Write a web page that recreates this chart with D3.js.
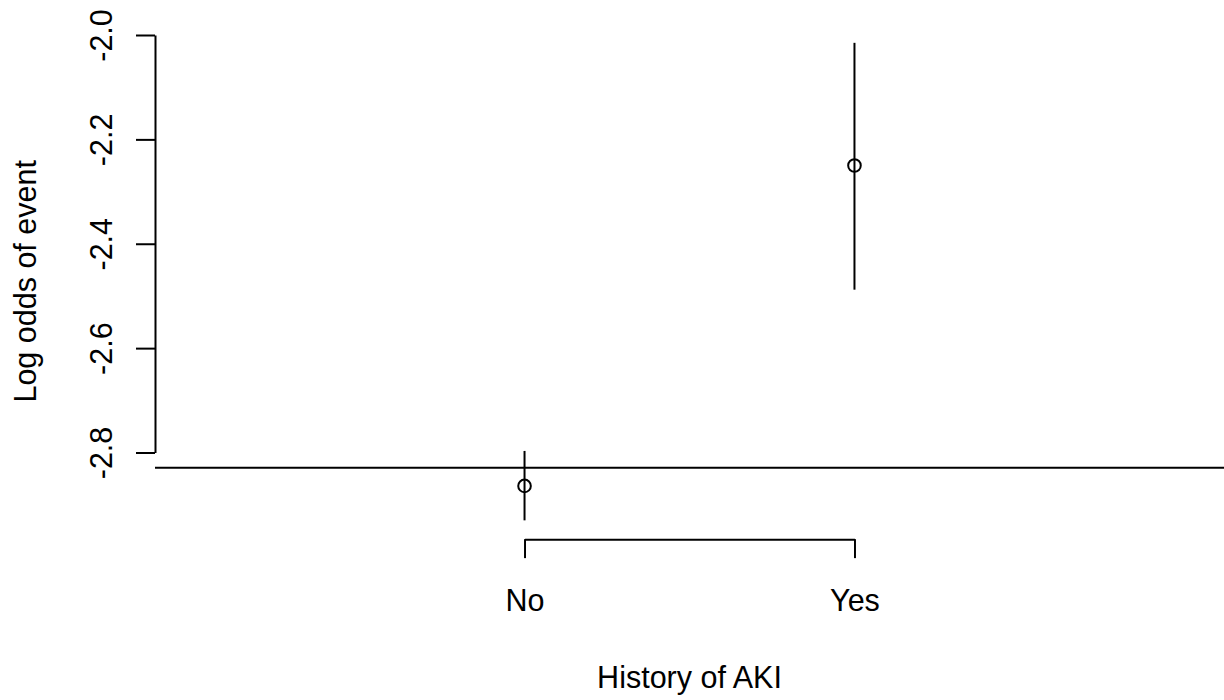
<!DOCTYPE html>
<html>
<head>
<meta charset="utf-8">
<script src="https://cdn.jsdelivr.net/npm/d3@7"></script>
<style>
  body { margin: 0; background: #fff; }
  svg { display: block; }
</style>
</head>
<body>
<div class="chart"></div>
<script>
// data
const categories = ['No', 'Yes']
const estimates = [-2.864, -2.250]
const lower = [-2.930, -2.488]
const upper = [-2.797, -2.015]
const refLine = -2.829
const yTicks = [-2.0, -2.2, -2.4, -2.6, -2.8]

const width = 1224
const height = 700
const fontFamily = '"Liberation Sans", Arial, Helvetica, sans-serif'
const fontSize = 30.5

const svg = d3.select('.chart').append('svg')
  .attr('width', width)
  .attr('height', height)
  .attr('font-family', fontFamily)

// plot region, x = 1..2 for categories, R style 4% padding
const x = d3.scaleLinear().domain([-0.12, 3.12]).range([155, 1224])
const y = d3.scaleLinear().domain([-2.0, -2.8]).range([35, 452.5])
const yBottom = y(-2.966)

// y axis
const yAxis = svg.append('g')
  .attr('transform', `translate(${x(-0.12)},0)`)
  .call(d3.axisLeft(y).tickValues(yTicks).tickSize(19).tickSizeOuter(0)
    .tickFormat(d3.format('.1f')))
yAxis.selectAll('path, line').attr('stroke', '#000').attr('stroke-width', 2)
yAxis.selectAll('text')
  .attr('x', 0).attr('dy', 0)
  .attr('transform', 'translate(-43,0) rotate(-90)')
  .attr('text-anchor', 'middle')
  .attr('fill', '#000')
  .attr('font-size', fontSize)
  .attr('font-family', fontFamily)
  .text(d => d3.format('.1f')(d).replace('−', '-'))

// x axis (bracket between categories)
const xCat = d3.scaleLinear().domain([1, 2]).range([x(1), x(2)])
const xAxis = svg.append('g')
  .attr('transform', `translate(0,${yBottom})`)
  .call(d3.axisBottom(xCat).tickValues([1, 2]).tickSize(19).tickSizeOuter(0)
    .tickFormat(d => categories[d - 1]))
xAxis.selectAll('path, line').attr('stroke', '#000').attr('stroke-width', 2)
xAxis.selectAll('text')
  .attr('y', 72).attr('dy', 0)
  .attr('fill', '#000')
  .attr('font-size', fontSize)
  .attr('font-family', fontFamily)

// reference line
svg.append('line')
  .attr('x1', x(-0.12)).attr('x2', x(3.12))
  .attr('y1', y(refLine)).attr('y2', y(refLine))
  .attr('stroke', '#000').attr('stroke-width', 2)

// error bars
svg.selectAll('.ci')
  .data(categories)
  .join('line')
  .attr('class', 'ci')
  .attr('x1', (d, i) => x(i + 1)).attr('x2', (d, i) => x(i + 1))
  .attr('y1', (d, i) => y(lower[i])).attr('y2', (d, i) => y(upper[i]))
  .attr('stroke', '#000').attr('stroke-width', 2)

// points
svg.selectAll('.pt')
  .data(categories)
  .join('circle')
  .attr('class', 'pt')
  .attr('cx', (d, i) => x(i + 1))
  .attr('cy', (d, i) => y(estimates[i]))
  .attr('r', 6.3)
  .attr('fill', 'none')
  .attr('stroke', '#000').attr('stroke-width', 2)

// axis titles
svg.append('text')
  .attr('x', (x(-0.12) + x(3.12)) / 2).attr('y', 688)
  .attr('text-anchor', 'middle')
  .attr('font-size', fontSize)
  .text('History of AKI')

svg.append('text')
  .attr('transform', `translate(36,${(y(-1.978) + yBottom) / 2}) rotate(-90)`)
  .attr('text-anchor', 'middle')
  .attr('font-size', fontSize)
  .text('Log odds of event')
</script>
</body>
</html>
